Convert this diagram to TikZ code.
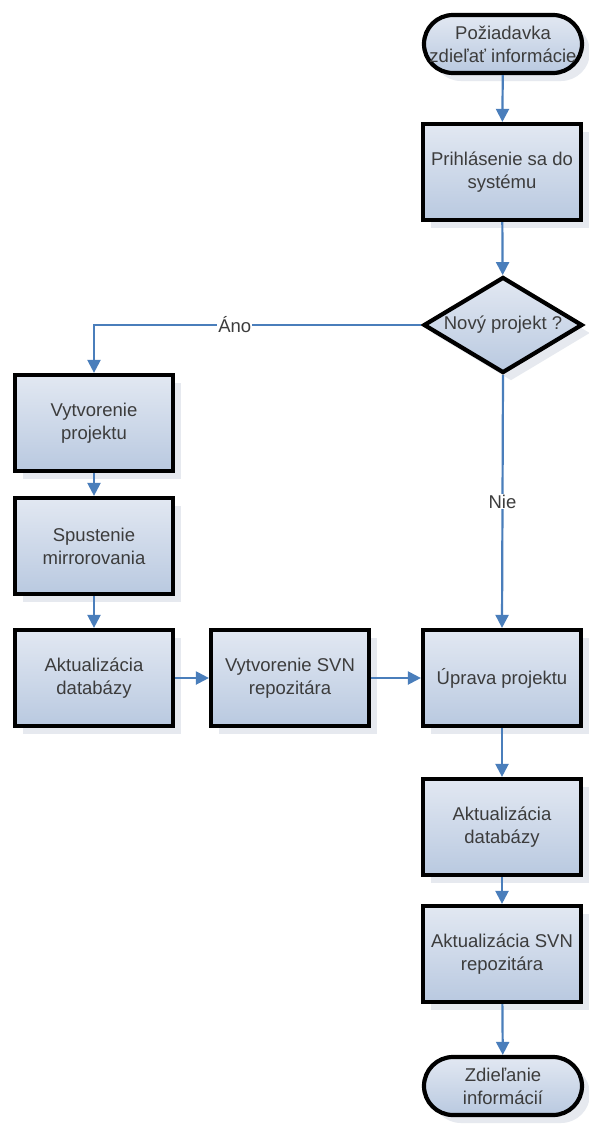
\documentclass[tikz,border=0pt]{standalone}
\usepackage{fontspec}
\setmainfont{Liberation Sans}
\usetikzlibrary{shapes.geometric,arrows.meta,shadows}
\definecolor{arrowblue}{HTML}{4A7EBB}
\definecolor{boxtop}{HTML}{E2E8F2}
\definecolor{boxbot}{HTML}{B9C9E0}
\definecolor{shadowc}{HTML}{E6E9EF}
\definecolor{txt}{HTML}{3C3C3C}
\begin{document}
\begin{tikzpicture}[x=1pt,y=-1pt,
  base/.style={draw=black, line width=4.2pt, text=txt,
    font=\fontsize{18.5}{23}\selectfont, align=center,
    top color=boxtop, bottom color=boxbot,
    drop shadow={shadow xshift=8pt, shadow yshift=-8pt, fill=shadowc, opacity=1}},
  proc/.style={base, rectangle, minimum width=158pt, minimum height=96pt, inner sep=2pt},
  term/.style={base, rectangle, rounded corners=29pt, minimum width=158pt, minimum height=58pt, inner sep=1pt},
  decision/.style={base, diamond, aspect=1.63, minimum width=159pt, minimum height=96pt, inner sep=0pt},
  flow/.style={draw=arrowblue, line width=2.2pt, -{Triangle[length=13pt,width=13pt]}},
  lbl/.style={fill=white, text=txt, font=\fontsize{18.5}{23}\selectfont, inner sep=1pt}
]
\useasboundingbox[fill=white] (0,0) rectangle (589,1125);

\node[term] (start) at (503,44) {Požiadavka\\zdieľať informácie};
\node[proc] (login) at (502,172) {Prihlásenie sa do\\systému};
\node[decision] (dec) at (503,325) {Nový projekt ?};
\node[proc] (vytv) at (94,423) {Vytvorenie\\projektu};
\node[proc] (spust) at (94,546) {Spustenie\\mirrorovania};
\node[proc] (aktL) at (94,678) {Aktualizácia\\databázy};
\node[proc] (svn) at (290,678) {Vytvorenie SVN\\repozitára};
\node[proc] (uprava) at (502,678) {Úprava projektu};
\node[proc] (aktR) at (502,827) {Aktualizácia\\databázy};
\node[proc] (aktSVN) at (502,954) {Aktualizácia SVN\\repozitára};
\node[term] (end) at (503,1086) {Zdieľanie\\informácií};

\draw[flow] (start) -- (login);
\draw[flow] (login) -- (dec);
\draw[flow] (dec.west) -| node[lbl, pos=0.285] {Áno} (vytv.north);
\draw[flow] (dec.south) -- node[lbl, pos=0.5] {Nie} (uprava.north);
\draw[flow] (vytv) -- (spust);
\draw[flow] (spust) -- (aktL);
\draw[flow] (aktL) -- (svn);
\draw[flow] (svn) -- (uprava);
\draw[flow] (uprava) -- (aktR);
\draw[flow] (aktR) -- (aktSVN);
\draw[flow] (aktSVN) -- (end);
\end{tikzpicture}
\end{document}
